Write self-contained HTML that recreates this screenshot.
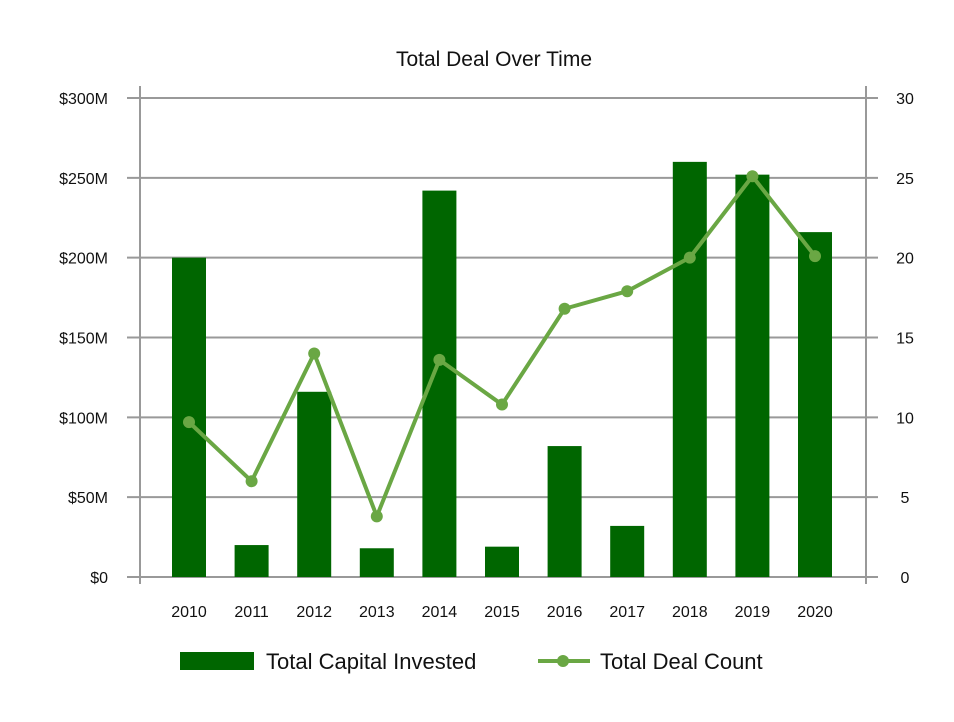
<!DOCTYPE html>
<html><head><meta charset="utf-8"><style>
body{margin:0;background:#fff;font-family:"Liberation Sans",sans-serif}
</style></head><body>
<svg id="chart" width="954" height="717" xmlns="http://www.w3.org/2000/svg" font-family="Liberation Sans, sans-serif">
<text x="494" y="66" text-anchor="middle" font-size="21" fill="#111">Total Deal Over Time</text>
<g id="grid"></g><g id="bars"></g><g id="line"></g><g id="labels"></g>
<g>
<rect x="180" y="652" width="74" height="18" fill="#006600"/>
<text x="266" y="669" font-size="22" fill="#111">Total Capital Invested</text>
<line x1="538" y1="661" x2="590" y2="661" stroke="#6aa744" stroke-width="4"/>
<circle cx="563" cy="661" r="6" fill="#6aa744"/>
<text x="600" y="669" font-size="22" fill="#111">Total Deal Count</text>
</g>
</svg>
<script>
const years=["2010","2011","2012","2013","2014","2015","2016","2017","2018","2019","2020"];
const capital=[200,20,116,18,242,19,82,32,260,252,216];
const dealCount=[9.7,6,14,3.8,13.6,10.8,16.8,17.9,20,25.1,20.1];
const leftTicks=["$0","$50M","$100M","$150M","$200M","$250M","$300M"];
const rightTicks=["0","5","10","15","20","25","30"];
const NS="http://www.w3.org/2000/svg";
const y0=577,yTop=98;
const yL=v=>y0-(v/300)*(y0-yTop);
const yR=v=>y0-(v/30)*(y0-yTop);
const xC=i=>189+i*62.6;
function mk(t,a,p){const e=document.createElementNS(NS,t);for(const k in a)e.setAttribute(k,a[k]);p.appendChild(e);return e;}
const g=document.getElementById('grid'),b=document.getElementById('bars'),l=document.getElementById('line'),lb=document.getElementById('labels');
leftTicks.forEach((t,i)=>{const y=yL(i*50);
const ln=mk('line',{x1:127,x2:878,y1:y,y2:y,stroke:'#999','stroke-width':2},g);


const tx=mk('text',{x:108,y:y+6,'text-anchor':'end','font-size':16,fill:'#111'},lb);tx.textContent=t;


const tr=mk('text',{x:905,y:y+6,'text-anchor':'middle','font-size':16,fill:'#111'},lb);tr.textContent=rightTicks[i];

});
const al=mk('line',{x1:140,x2:140,y1:86,y2:584,stroke:'#999','stroke-width':2},g);


const ar=mk('line',{x1:866,x2:866,y1:86,y2:584,stroke:'#999','stroke-width':2},g);


years.forEach((yr,i)=>{const x=xC(i);
const r=mk('rect',{x:x-17,y:yL(capital[i]),width:34,height:y0-yL(capital[i]),fill:'#006600'},b);


const t=mk('text',{x:x,y:617,'text-anchor':'middle','font-size':16,fill:'#111'},lb);t.textContent=yr;

});
const pts=dealCount.map((v,i)=>xC(i)+','+yR(v)).join(' ');
const pl=mk('polyline',{points:pts,fill:'none',stroke:'#6aa744','stroke-width':4,'stroke-linejoin':'round'},l);


dealCount.forEach((v,i)=>{const c=mk('circle',{cx:xC(i),cy:yR(v),r:6,fill:'#6aa744'},l);

});
</script>
</body></html>
